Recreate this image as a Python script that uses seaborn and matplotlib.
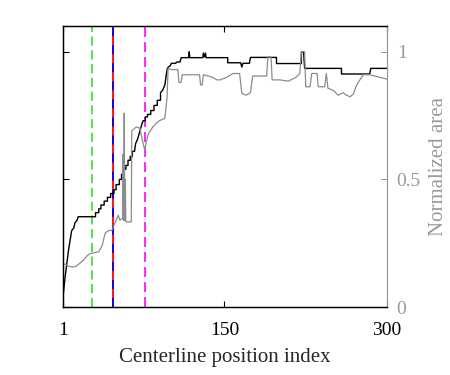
import numpy as np
import pandas as pd
import matplotlib
matplotlib.use("Agg")
import matplotlib.pyplot as plt
import seaborn as sns

# --- DATA ---
black_idx = [1, 3, 6, 9, 11, 12, 14, 15, 31, 31, 34, 34, 36, 36, 39, 39, 42, 42, 45, 45,
             48, 48, 50, 50, 53, 53, 55, 55, 57, 57, 59, 59, 61, 61, 63, 63, 65, 65, 67,
             68, 70, 72, 74, 75, 77, 77, 79, 79, 82, 82, 85, 85, 88, 88, 91, 91, 93, 95,
             97, 98, 100, 101, 105, 106, 109, 110, 117, 117.5, 118, 130, 130.5, 131.5,
             132.5, 133, 153, 153, 165, 166, 167, 173, 174, 198, 198, 221, 221, 223, 224,
             258, 258, 284, 285, 300]
black_val = [0.04, 0.12, 0.22, 0.30, 0.31, 0.33, 0.34, 0.354, 0.354, 0.37, 0.37, 0.385,
             0.385, 0.40, 0.40, 0.415, 0.415, 0.43, 0.43, 0.445, 0.445, 0.46, 0.46, 0.48,
             0.48, 0.50, 0.50, 0.52, 0.52, 0.54, 0.54, 0.555, 0.555, 0.575, 0.575, 0.59,
             0.59, 0.61, 0.61, 0.64, 0.66, 0.69, 0.72, 0.73, 0.73, 0.745, 0.745, 0.755,
             0.755, 0.77, 0.77, 0.79, 0.79, 0.81, 0.81, 0.84, 0.85, 0.87, 0.93, 0.94,
             0.945, 0.955, 0.955, 0.96, 0.96, 0.977, 0.977, 1.0, 0.977, 0.977, 0.995,
             0.98, 0.995, 0.977, 0.977, 0.957, 0.957, 0.94, 0.955, 0.955, 0.978, 0.978,
             0.954, 0.954, 1.0, 1.0, 0.935, 0.935, 0.913, 0.913, 0.935, 0.935]

gray_idx = [1, 3, 6, 10, 13, 16, 20, 23, 26, 30, 34, 37, 40, 43, 46, 49, 52, 53.5, 55, 56,
            56.5, 57, 57.5, 58, 58.5, 59, 64, 64.5, 67, 69, 72, 74, 75, 76.5, 78, 80, 84,
            87, 90, 95, 97, 98, 101, 107, 108, 110, 111, 127, 128, 129.5, 130.5, 135, 139,
            143, 146, 152, 158, 164, 166, 170, 174, 176, 189, 190, 193, 194, 201, 209, 216,
            219.5, 221, 224, 225, 229, 230.5, 235.5, 236.5, 242.5, 244, 245.5, 250, 255,
            259.5, 262.5, 266, 269, 272, 278, 284, 300]
gray_val = [0.17, 0.168, 0.16, 0.157, 0.16, 0.17, 0.184, 0.20, 0.21, 0.213, 0.217, 0.24,
            0.29, 0.30, 0.30, 0.33, 0.36, 0.34, 0.345, 0.345, 0.60, 0.34, 0.76, 0.34, 0.50,
            0.334, 0.334, 0.69, 0.70, 0.706, 0.70, 0.66, 0.64, 0.615, 0.65, 0.68, 0.706,
            0.72, 0.73, 0.74, 0.82, 0.935, 0.93, 0.93, 0.88, 0.88, 0.91, 0.91, 0.87, 0.87,
            0.91, 0.905, 0.90, 0.89, 0.89, 0.90, 0.915, 0.915, 0.837, 0.83, 0.84, 0.905,
            0.905, 0.98, 0.98, 0.89, 0.89, 0.885, 0.90, 0.915, 1.0, 1.0, 0.863, 0.863,
            0.915, 0.915, 0.863, 0.863, 0.915, 0.857, 0.85, 0.83, 0.84, 0.83, 0.824,
            0.835, 0.87, 0.91, 0.91, 0.893]

green_mark = 28
redblue_mark = 47
magenta_mark = 77

x_ticks = [1, 150, 300]
y_ticks = [0, 0.5, 1]

# --- STYLE ---
sns.set_style("white")
plt.rcParams["font.family"] = ["Liberation Serif", "DejaVu Serif"]
GRAY = "#999999"

fig = plt.figure(figsize=(4.5, 3.75), dpi=100)
ax = fig.add_axes([0.14, 0.181, 0.72, 0.749])
ax2 = ax.twinx()

# marker lines
ax.axvline(green_mark, color="#22dd22", lw=1.1, ls=(0, (6, 3)), zorder=1)
ax.axvline(redblue_mark, color="red", lw=1.3, zorder=1)
ax.axvline(redblue_mark, color="blue", lw=1.3, ls=(0, (5, 5)), zorder=1)
ax.axvline(magenta_mark, color="#ff00ff", lw=1.2, ls=(0, (6, 3)), zorder=1)

sns.lineplot(x=black_idx, y=black_val, estimator=None, sort=False,
             color="black", lw=1, ax=ax, zorder=3)
sns.lineplot(x=gray_idx, y=gray_val, estimator=None, sort=False,
             color="#8c8c8c", lw=0.9, ax=ax2, zorder=2)

for a in (ax, ax2):
    a.set_xlim(1, 300)
    a.set_ylim(0, 1.1)
    a.set_yticks(y_ticks)

ax.set_xticks(x_ticks)
ax.set_xticklabels([str(t) for t in x_ticks])
ax.set_yticklabels([])
ax.tick_params(axis="both", direction="in", length=4, width=0.8, labelsize=14,
               top=True, bottom=True, left=True, right=False, colors="black")
ax.tick_params(axis="x", pad=11)
ax.set_xlabel("Centerline position index", fontsize=15, labelpad=6)
ax.set_ylabel("")

ax2.set_yticklabels(["0", "0.5", "1"])
ax2.tick_params(axis="y", direction="in", length=4, width=0.8, labelsize=14,
                colors=GRAY, labelcolor=GRAY, pad=7)
ax2.set_ylabel("Normalized area", fontsize=15, color=GRAY, labelpad=6)

for a in (ax, ax2):
    for s in a.spines.values():
        s.set_linewidth(0.9)
        s.set_color("black")
ax2.spines["right"].set_color(GRAY)
ax.spines["right"].set_visible(False)

fig.savefig("out.png", dpi=100)
